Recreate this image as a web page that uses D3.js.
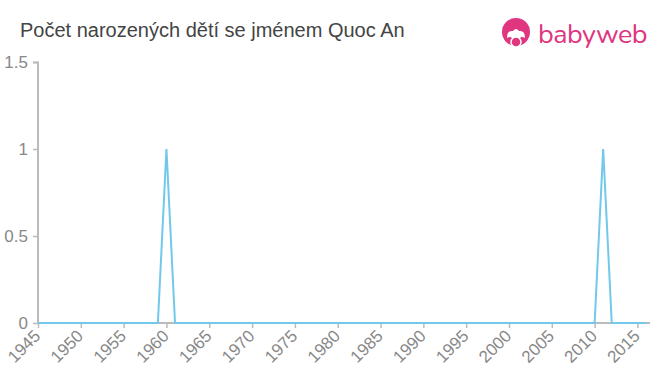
<!DOCTYPE html>
<html><head><meta charset="utf-8">
<script src="https://cdn.jsdelivr.net/npm/d3@7/dist/d3.min.js"></script>
<style>body{margin:0;background:#fff;}svg{display:block;font-family:"Liberation Sans",Arial,sans-serif;}</style>
</head><body>
<svg id="c" width="660" height="375"></svg>
<script>
const years = d3.range(1945, 2017);
const counts = years.map(y => (y === 1960 || y === 2011) ? 1 : 0);
const yTicks = [0, 0.5, 1, 1.5];
const xTicks = d3.range(1945, 2016, 5);
const title = "Počet narozených dětí se jménem Quoc An";

const svg = d3.select("#c");
const x = d3.scaleLinear().domain([1945, 2016]).range([38, 646]);
const y = d3.scaleLinear().domain([0, 1.5]).range([323, 62]);

svg.append("text").attr("x", 20).attr("y", 37).attr("font-size", 20).attr("fill", "#444").text(title);

// y axis
const ya = svg.append("g").attr("transform", "translate(38,0)")
  .call(d3.axisLeft(y).tickValues(yTicks).tickSize(5).tickPadding(5).tickFormat(d => String(d)));
ya.select(".domain").attr("stroke", "#bbb").attr("stroke-width", 2).attr("d", "M-5,62.5H0V323");
ya.selectAll(".tick line").attr("stroke", "#bbb").attr("stroke-width", 1.5);
ya.selectAll(".tick text").attr("fill", "#888").attr("font-size", 17).attr("font-family", "Liberation Sans, Arial, sans-serif");

// x axis
const xa = svg.append("g").attr("transform", "translate(0,323)")
  .call(d3.axisBottom(x).tickValues(xTicks).tickSize(5).tickFormat(d3.format("d")));
xa.select(".domain").attr("stroke", "#bbb").attr("stroke-width", 2).attr("d", "M38,0H650");
xa.selectAll(".tick line").attr("stroke", "#bbb").attr("stroke-width", 1.5);
xa.selectAll(".tick text").attr("fill", "#888").attr("font-size", 17)
  .attr("font-family", "Liberation Sans, Arial, sans-serif")
  .attr("text-anchor", "end").attr("dy", null).attr("y", 0)
  .attr("transform", "translate(3,14) rotate(-45)");

// line
const line = d3.line().x((d, i) => x(years[i])).y(d => y(d));
svg.append("path").datum(counts).attr("d", line).attr("fill", "none")
  .attr("stroke", "#72c8ea").attr("stroke-width", 2).attr("stroke-linejoin", "miter");

// logo
const lg = svg.append("g").attr("transform", "translate(516,32)");
lg.append("circle").attr("r", 14).attr("fill", "#e0357f");
lg.append("path").attr("d", "M-9,6 Q-9,-2 -3,-1 Q0,-5 3,-1 Q9,-2 9,6 Q6,4 4,6 Q0,9 -4,6 Q-6,4 -9,6Z").attr("fill", "#fff");
lg.append("circle").attr("cx", 0).attr("cy", 10).attr("r", 5).attr("fill", "#e0357f").attr("stroke", "#fff").attr("stroke-width", 1.5);
svg.append("text").attr("x", 538).attr("y", 43).attr("font-size", 27).attr("fill", "#e0357f")
  .attr("font-family", "Nunito, 'Open Sans', sans-serif").attr("letter-spacing", -0.5).text("babyweb");
</script>
</body></html>
